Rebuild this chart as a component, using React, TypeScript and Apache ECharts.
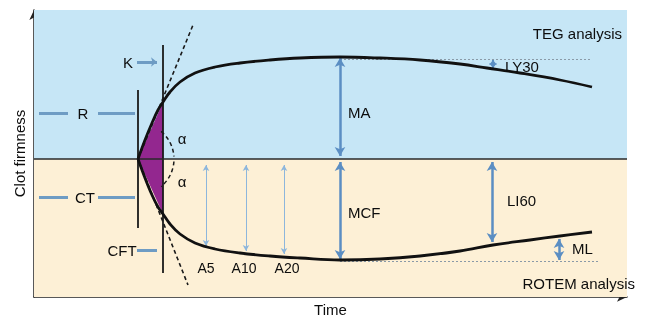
import React, { useEffect, useRef } from "react";
import * as echarts from "echarts";

// Clot firmness traces (x = time units, y = firmness; TEG above, ROTEM mirrored below)
const curveTEG: number[][] = [
  [104, 0], [111, 19], [118, 36], [124, 49], [129, 57], [136, 67], [146, 77], [161, 86],
  [181, 92], [206, 96], [236, 99], [266, 101], [306, 102], [346, 101], [386, 99],
  [426, 95], [453, 91], [486, 86], [526, 79], [558, 72],
];
const curveROTEM: number[][] = [
  [104, 0], [111, -19], [118, -36], [124, -48], [129, -55], [136, -65], [146, -75], [161, -84],
  [181, -90], [206, -94], [236, -97], [266, -99], [306, -101], [346, -100], [386, -97],
  [426, -92], [459, -86], [496, -81], [526, -77], [558, -73],
];
const tangentTEG: number[][] = [[104, 0], [159, 134]];
const tangentROTEM: number[][] = [[104, 0], [154, -126]];
const lineR: number[][] = [[104, 69], [104, -69]];
const lineK: number[][] = [[129, 114], [129, -114]];
const triTEG: number[][] = [[104, 0], [129, 57]];
const triROTEM: number[][] = [[104, 0], [129, -55]];

// [label, x, yFrom, yTo]
const paramArrows: [string, number, number, number][] = [
  ["MA", 306, 101, 3],
  ["MCF", 306, -3, -100],
  ["LI60", 458, -3, -83],
  ["ML", 525, -101, -80],
];
const ly30Arrow: [string, number, number, number] = ["LY30", 459, 99, 91];
const ampArrows: [string, number, number, number][] = [
  ["A5", 172, -6, -87],
  ["A10", 212, -6, -92],
  ["A20", 250, -6, -95],
];
const refTEG: number[][] = [[306, 100], [556, 100]];
const refROTEM: number[][] = [[306, -102], [566, -102]];

const FONT = '"Liberation Sans", Arial, sans-serif';

export default function App() {
  const ref = useRef<HTMLDivElement>(null);
  useEffect(() => {
    document.body.style.margin = "0";
    const chart = echarts.init(ref.current!, null, { renderer: "svg" });
    const arrowPair = (a: [string, number, number, number]) => [
      { coord: [a[1], a[2]] },
      { coord: [a[1], a[3]] },
    ];
    const txt = (text: string, x: number, y: number, align = "left", size = 15) => ({
      type: "text",
      x,
      y,
      z: 100,
      style: {
        text,
        fill: "#0d0d0d",
        font: `${size}px ${FONT}`,
        align,
        verticalAlign: "middle",
        textAlign: align,
        textVerticalAlign: "middle",
      },
    });
    const blueSeg = "#6e9cc4";
    chart.setOption({
      animation: false,
      grid: { left: 34, right: 20, top: 10, bottom: 22, outerBoundsMode: "none", containLabel: false },
      xAxis: {
        type: "value",
        min: 0,
        max: 593,
        name: "Time",
        nameLocation: "middle",
        nameGap: 5,
        nameTextStyle: { fontFamily: FONT, fontSize: 15, color: "#0d0d0d", verticalAlign: "top" },
        axisLine: { show: true, onZero: false, symbol: ["none", "arrow"], symbolSize: [7, 10], lineStyle: { color: "#222", width: 1.5 } },
        axisTick: { show: false },
        axisLabel: { show: false },
        splitLine: { show: false },
      },
      yAxis: {
        type: "value",
        min: -138,
        max: 149,
        name: "Clot firmness",
        nameLocation: "middle",
        nameRotate: 90,
        nameGap: 7,
        nameTextStyle: { fontFamily: FONT, fontSize: 15, color: "#0d0d0d" },
        axisLine: { show: true, onZero: false, symbol: ["none", "arrow"], symbolSize: [7, 10], lineStyle: { color: "#222", width: 1.5 } },
        axisTick: { show: false },
        axisLabel: { show: false },
        splitLine: { show: false },
      },
      series: [
        {
          type: "line",
          z: 0,
          data: [[0, 0]],
          showSymbol: false,
          lineStyle: { width: 0 },
          silent: true,
          markArea: {
            silent: true,
            data: [
              [{ coord: [0, 0], itemStyle: { color: "#c6e6f6" } }, { coord: [593, 149] }],
              [{ coord: [0, -138], itemStyle: { color: "#fdf0d6" } }, { coord: [593, 0] }],
            ],
          },
          markLine: {
            silent: true,
            symbol: "none",
            label: { show: false },
            lineStyle: { color: "#2a2a2a", width: 1.5, type: "solid" },
            data: [[{ coord: [0, 0] }, { coord: [593, 0] }]],
          },
        },
        {
          type: "line", z: 2, data: triTEG, showSymbol: false,
          lineStyle: { width: 0 }, areaStyle: { color: "#93278f", opacity: 1 },
        },
        {
          type: "line", z: 2, data: triROTEM, showSymbol: false,
          lineStyle: { width: 0 }, areaStyle: { color: "#93278f", opacity: 1 },
        },
        {
          type: "line", z: 3, data: lineR, showSymbol: false,
          lineStyle: { color: "#1a1a1a", width: 1.8 },
        },
        {
          type: "line", z: 3, data: lineK, showSymbol: false,
          lineStyle: { color: "#1a1a1a", width: 1.8 },
        },
        {
          type: "line", z: 4, data: tangentTEG, showSymbol: false,
          lineStyle: { color: "#1a1a1a", width: 1.6, type: [4, 3] },
        },
        {
          type: "line", z: 4, data: tangentROTEM, showSymbol: false,
          lineStyle: { color: "#1a1a1a", width: 1.6, type: [4, 3] },
        },
        {
          type: "line", z: 5, data: curveTEG, smooth: 0.4, showSymbol: false,
          lineStyle: { color: "#111", width: 2.8 },
        },
        {
          type: "line", z: 5, data: curveROTEM, smooth: 0.4, showSymbol: false,
          lineStyle: { color: "#111", width: 2.8 },
        },
        // reference dotted lines
        {
          type: "line", z: 3, data: [], showSymbol: false,
          markLine: {
            silent: true, symbol: "none", label: { show: false },
            lineStyle: { color: "#8a9aa8", width: 1, type: [2, 2] },
            data: [
              [{ coord: refTEG[0] }, { coord: refTEG[1] }],
              [{ coord: refROTEM[0] }, { coord: refROTEM[1] }],
            ],
          },
        },
        // parameter double arrows
        {
          type: "line", z: 6, data: [], showSymbol: false,
          markLine: {
            silent: true, symbol: ["arrow", "arrow"], symbolSize: [8, 9], label: { show: false },
            lineStyle: { color: "#5b8ec3", width: 2.5, type: "solid" },
            data: paramArrows.map(arrowPair),
          },
        },
        {
          type: "line", z: 6, data: [], showSymbol: false,
          markLine: {
            silent: true, symbol: ["arrow", "arrow"], symbolSize: [6, 5], label: { show: false },
            lineStyle: { color: "#5b8ec3", width: 2, type: "solid" },
            data: [arrowPair(ly30Arrow)],
          },
        },
        {
          type: "line", z: 6, data: [], showSymbol: false,
          markLine: {
            silent: true, symbol: ["arrow", "arrow"], symbolSize: [5, 6], label: { show: false },
            lineStyle: { color: "#8db6dc", width: 1, type: "solid" },
            data: ampArrows.map(arrowPair),
          },
        },
        // left label leader lines
        {
          type: "line", z: 6, data: [], showSymbol: false,
          markLine: {
            silent: true, symbol: "none", label: { show: false },
            lineStyle: { color: blueSeg, width: 3, type: "solid" },
            data: [
              [{ coord: [5, 46] }, { coord: [34, 46] }],
              [{ coord: [64, 46] }, { coord: [101, 46] }],
              [{ coord: [5, -38] }, { coord: [34, -38] }],
              [{ coord: [64, -38] }, { coord: [101, -38] }],
              [{ coord: [103, -91] }, { coord: [123, -91] }],
            ],
          },
        },
        {
          type: "line", z: 6, data: [], showSymbol: false,
          markLine: {
            silent: true, symbol: ["none", "arrow"], symbolSize: [7, 6], label: { show: false },
            lineStyle: { color: blueSeg, width: 3, type: "solid" },
            data: [[{ coord: [103, 97] }, { coord: [123, 97] }]],
          },
        },
      ],
      graphic: [
        {
          type: "arc", z: 50,
          shape: { cx: 138, cy: 159, r: 36, startAngle: (-50 * Math.PI) / 180, endAngle: (-4 * Math.PI) / 180, clockwise: true },
          style: { stroke: "#1a1a1a", lineWidth: 1.5, lineDash: [4, 3], fill: "none" },
        },
        {
          type: "arc", z: 50,
          shape: { cx: 138, cy: 159, r: 36, startAngle: (4 * Math.PI) / 180, endAngle: (50 * Math.PI) / 180, clockwise: true },
          style: { stroke: "#1a1a1a", lineWidth: 1.5, lineDash: [4, 3], fill: "none" },
        },
        txt("TEG analysis", 622, 33, "right"),
        txt("ROTEM analysis", 635, 283, "right"),
        txt("R", 83, 113, "center"),
        txt("CT", 85, 197, "center"),
        txt("K", 128, 62, "center"),
        txt("CFT", 122, 250, "center"),
        txt("α", 182, 138, "center"),
        txt("α", 182, 181, "center"),
        txt("MA", 348, 112),
        txt("MCF", 348, 212),
        txt("LI60", 507, 200),
        txt("ML", 572, 248),
        txt("LY30", 505, 66),
        txt("A5", 206, 268, "center", 14),
        txt("A10", 244, 268, "center", 14),
        txt("A20", 287, 268, "center", 14),
      ],
    });
    return () => chart.dispose();
  }, []);
  return <div ref={ref} style={{ position: "fixed", left: 0, top: 0, width: 647, height: 319 }} />;
}
